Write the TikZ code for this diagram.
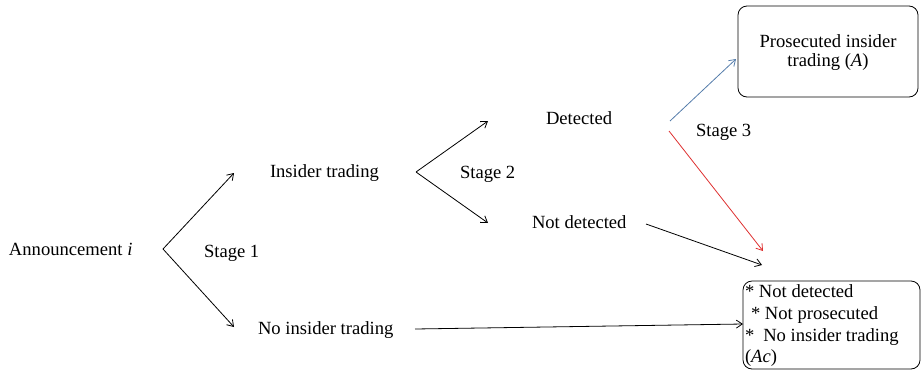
\documentclass[tikz,border=0pt]{standalone}
\usepackage{fontspec}
\setmainfont{Liberation Serif}
\usetikzlibrary{arrows.meta}
\definecolor{bluearr}{RGB}{84,124,170}
\definecolor{redarr}{RGB}{222,48,48}
\begin{document}
\begin{tikzpicture}[x=1pt,y=-1pt,
  every node/.style={inner sep=0pt,outer sep=0pt,font=\fontsize{18.6}{21}\selectfont},
  lbl/.style={anchor=base west},
  conn/.style={line width=0.8pt,-{Straight Barb[length=6pt,width=8pt,line width=0.8pt]}},
  outbox/.style={draw,line width=0.8pt,rounded corners=9pt}]
\useasboundingbox (0,0) rectangle (921,370);
% text nodes
\node[lbl] (ann) at (9,255) {Announcement \textit{i}};
\node[lbl] (s1) at (204,257) {Stage 1};
\node[lbl] (it) at (270,177) {Insider trading};
\node[lbl] (nit) at (258,334) {No insider trading};
\node[lbl] (s2) at (460,178) {Stage 2};
\node[lbl] (det) at (546,124) {Detected};
\node[lbl] (ndet) at (532,228) {Not detected};
\node[lbl] (s3) at (696,136) {Stage 3};
% boxes
\node[outbox,minimum width=180pt,minimum height=91pt,anchor=north west] (pbox) at (738,6) {};
\node[lbl,anchor=base] (p1) at (828,47) {Prosecuted insider};
\node[lbl,anchor=base] (p2) at (828,66) {trading (\textit{A})};
\node[outbox,minimum width=177pt,minimum height=88pt,anchor=north west] (nbox) at (743,281) {};
\node[lbl] (n1) at (745,297) {* Not detected};
\node[lbl] (n2) at (751,319) {* Not prosecuted};
\node[lbl] (n3) at (745,341) {*\hspace{9pt}No insider trading};
\node[lbl] (n4) at (745,362) {(\textit{Ac})};
% fork coordinates
\coordinate (f1) at (163,249);
\coordinate (f1u) at (234,173);
\coordinate (f1d) at (234,327);
\coordinate (f2) at (416,172);
\coordinate (f2u) at (488,121);
\coordinate (f2d) at (488,223);
\coordinate (bs) at (670,121);
\coordinate (be) at (736,59);
\coordinate (rs) at (669,131);
\coordinate (re) at (763,251);
\coordinate (ks) at (646,224);
\coordinate (ke) at (762,265);
\coordinate (hs) at (415,329);
% connectors
\draw[conn] (f1) -- (f1u);
\draw[conn] (f1) -- (f1d);
\draw[conn] (f2) -- (f2u);
\draw[conn] (f2) -- (f2d);
\draw[conn,bluearr] (bs) -- (be);
\draw[conn,redarr] (rs) -- (re);
\draw[conn] (ks) -- (ke);
\draw[conn] (hs) -- (nbox.west |- 0,324);
\end{tikzpicture}
\end{document}
